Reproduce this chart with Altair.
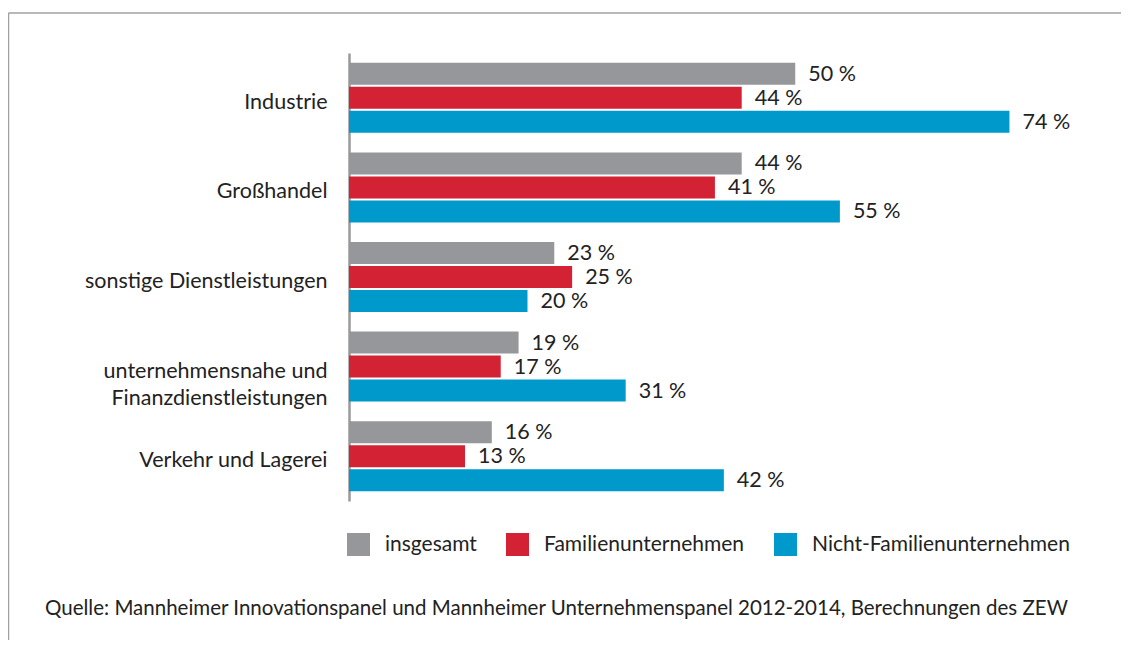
import altair as alt
import pandas as pd

categories = [
    "Industrie",
    "Großhandel",
    "sonstige Dienstleistungen",
    "unternehmensnahe und Finanzdienstleistungen",
    "Verkehr und Lagerei",
]
series = ["insgesamt", "Familienunternehmen", "Nicht-Familienunternehmen"]
insgesamt = [50, 44, 23, 19, 16]
familien = [44, 41, 25, 17, 13]
nicht_familien = [74, 55, 20, 31, 42]
colors = ["#96979b", "#d22234", "#0099cc"]
source_text = ["Quelle: Mannheimer Innovationspanel und Mannheimer Unternehmenspanel 2012-2014, Berechnungen des ZEW"]

rows = []
for i, c in enumerate(categories):
    for s, vals in zip(series, [insgesamt, familien, nicht_familien]):
        rows.append({"cat": c, "series": s, "value": vals[i], "label": f"{vals[i]} %"})
df = pd.DataFrame(rows)

FONT = "Lato"
FS = 21.5
TXT = "#222222"

label_expr = ("datum.label == 'unternehmensnahe und Finanzdienstleistungen' ? "
              "['unternehmensnahe und', 'Finanzdienstleistungen'] : datum.label")

base = alt.Chart(df).encode(
    y=alt.Y(
        "cat:N",
        sort=categories,
        scale=alt.Scale(paddingInner=0, paddingOuter=0),
        axis=alt.Axis(
            title=None, ticks=False, domainColor="#9a9a9a", domainWidth=2.5,
            labelFont=FONT, labelFontSize=FS, labelColor=TXT, labelPadding=22,
            labelLimit=400, labelOffset=5, labelLineHeight=27, labelExpr=label_expr,
        ),
    ),
    yOffset=alt.YOffset("series:N", sort=series,
                        scale=alt.Scale(paddingInner=0.083, paddingOuter=0.408)),
    x=alt.X("value:Q", scale=alt.Scale(domain=[0, 80], nice=False), axis=None),
)

bars = base.mark_bar().encode(
    color=alt.Color(
        "series:N", sort=series,
        scale=alt.Scale(domain=series, range=colors),
        legend=alt.Legend(
            title=None, orient="none", legendX=-2, legendY=480, direction="horizontal",
            symbolType="square", symbolSize=529, symbolStrokeWidth=0, symbolOpacity=1,
            labelFont=FONT, labelFontSize=21, labelColor=TXT, labelOffset=15,
            labelLimit=400, columnPadding=29,
        ),
    )
)

text = base.mark_text(align="left", baseline="middle", dx=13, dy=1,
                      font=FONT, fontSize=FS, color=TXT).encode(text="label:N")

frame_df = pd.DataFrame({"a": [0]})
left_line = alt.Chart(frame_df).mark_rule(color="#a0a0a0", strokeWidth=1.5).encode(
    x=alt.value(-340.5), y=alt.value(-40), y2=alt.value(587)
)
top_line = alt.Chart(frame_df).mark_rule(color="#a0a0a0", strokeWidth=1.5).encode(
    x=alt.value(-340.5), x2=alt.value(772), y=alt.value(-40)
)

source = alt.Chart(pd.DataFrame({"t": source_text})).mark_text(
    align="left", baseline="middle", font=FONT, fontSize=20.5, color=TXT
).encode(text="t:N", x=alt.value(-304), y=alt.value(556))

chart = alt.layer(left_line, top_line, bars, text, source).properties(
    width=714,
    height=448,
    autosize=alt.AutoSizeParams(type="none"),
    padding={"left": 341, "top": 45, "right": 58, "bottom": 139},
).configure_view(stroke=None)

chart.save("out.html", embed_options={"renderer": "svg", "actions": False})
